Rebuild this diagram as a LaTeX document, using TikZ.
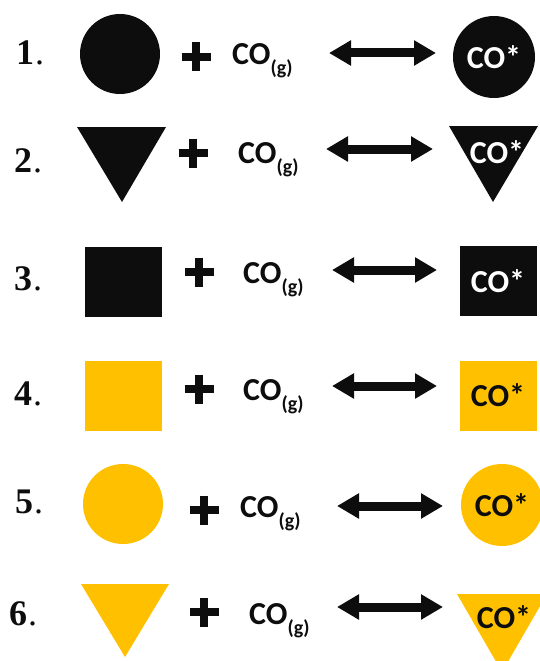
\documentclass[tikz,border=0pt]{standalone}
\usepackage{fontspec}
\setmainfont{Liberation Serif}
\newfontfamily\cofont{Carlito}
\usetikzlibrary{arrows.meta}
\definecolor{ink}{HTML}{0D0D0D}
\definecolor{gold}{HTML}{FFC000}
\newcommand{\cog}{CO\raisebox{-10pt}{\fontsize{20}{20}\selectfont (g)}}
\newcommand{\numlabel}[1]{{\bfseries #1}\kern1pt.}
\begin{document}
\begin{tikzpicture}[x=1pt,y=-1pt,
  num/.style={font=\fontsize{36}{36}\selectfont, anchor=base west, inner sep=0pt, text=ink},
  co/.style={font=\cofont\bfseries\fontsize{32}{32}\selectfont, anchor=base west, inner sep=0pt, text=ink},
  costar/.style={font=\cofont\bfseries\fontsize{32}{32}\selectfont, inner sep=0pt},
  dot/.style={circle, minimum size=#1, inner sep=0pt},
  box/.style={rectangle, minimum width=77pt, minimum height=70pt, inner sep=0pt},
  eq/.style={line width=9pt, draw=ink, {Triangle[length=22pt,width=24pt]}-{Triangle[length=22pt,width=24pt]}},
  plussign/.pic={\draw[line width=8pt, ink] (-14.5,0) -- (14.5,0) (0,-14.5) -- (0,14.5);}
]
\useasboundingbox (0,0) rectangle (539,661);
% row 1
\node[num] (n1) at (16,65) {\numlabel{1}};
\node[dot=80pt, fill=ink] (s1) at (120,54) {};
\pic at (196,57) {plussign};
\node[co] (g1) at (232,64) {\cog};
\coordinate (l1) at (329,53);
\coordinate (r1) at (436,53);
\draw[eq] (l1) -- (r1);
\node[dot=82pt, fill=ink, text=white, costar] (p1) at (494,57) {CO*};
% row 2
\node[num] (n2) at (14,172) {\numlabel{2}};
\fill[ink] (77,127) -- (166,127) -- (122,202) -- cycle;
\pic at (193,153) {plussign};
\node[co] (g2) at (238,163) {\cog};
\coordinate (l2) at (326,149);
\coordinate (r2) at (433,149);
\draw[eq] (l2) -- (r2);
\fill[ink] (449,126) -- (538,126) -- (493,202) -- cycle;
\node[costar, text=white] (p2) at (497,152) {CO*};
% row 3
\node[num] (n3) at (14,290) {\numlabel{3}};
\node[box, fill=ink] (s3) at (123.5,281.5) {};
\pic at (199,272) {plussign};
\node[co] (g3) at (243,283) {\cog};
\coordinate (l3) at (332,270);
\coordinate (r3) at (437,270);
\draw[eq] (l3) -- (r3);
\node[box, fill=ink, text=white, costar] (p3) at (498,281) {CO*};
% row 4
\node[num] (n4) at (14,405) {\numlabel{4}};
\node[box, fill=gold] (s4) at (123.5,395.5) {};
\pic at (199,389) {plussign};
\node[co] (g4) at (243,400) {\cog};
\coordinate (l4) at (332,386);
\coordinate (r4) at (437,386);
\draw[eq] (l4) -- (r4);
\node[box, fill=gold, text=ink, costar] (p4) at (498,395.5) {CO*};
% row 5
\node[num] (n5) at (15,513) {\numlabel{5}};
\node[dot=80pt, fill=gold] (s5) at (123,504) {};
\pic at (204,510) {plussign};
\node[co] (g5) at (240,517) {\cog};
\coordinate (l5) at (337,506);
\coordinate (r5) at (443,506);
\draw[eq] (l5) -- (r5);
\node[dot=82pt, fill=gold, text=ink, costar] (p5) at (502,505) {CO*};
% row 6
\node[num] (n6) at (9,625) {\numlabel{6}};
\fill[gold] (81,584) -- (169,584) -- (125,657) -- cycle;
\pic at (204,612) {plussign};
\node[co] (g6) at (249,624) {\cog};
\coordinate (l6) at (337,607);
\coordinate (r6) at (443,607);
\draw[eq] (l6) -- (r6);
\fill[gold] (457,594) -- (547,594) -- (502,672) -- cycle;
\node[costar, text=ink] (p6) at (504,617) {CO*};
\end{tikzpicture}
\end{document}
